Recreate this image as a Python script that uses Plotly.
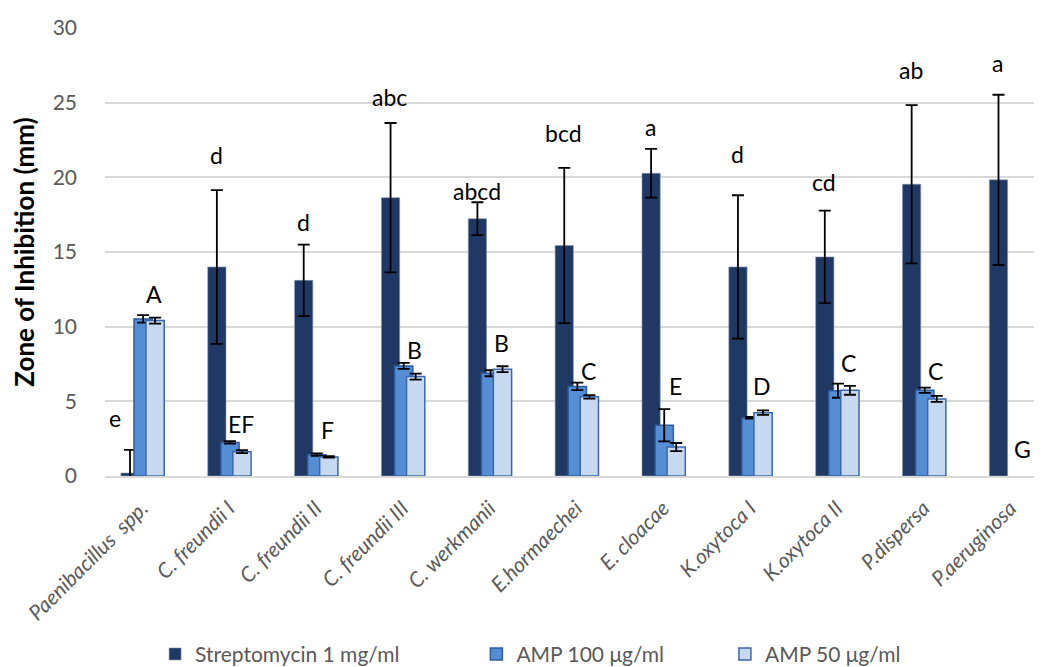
import plotly.graph_objects as go

categories = ["Paenibacillus  spp.", "C. freundii I", "C. freundii II", "C. freundii III",
              "C. werkmanii", "E.hormaechei", "E. cloacae", "K.oxytoca I", "K.oxytoca II",
              "P.dispersa", "P.aeruginosa"]

strep = [0.2, 14.0, 13.1, 18.64, 17.23, 15.44, 20.27, 14.0, 14.67, 19.54, 19.83]
strep_err = [1.55, 5.15, 2.4, 5.0, 1.1, 5.2, 1.63, 4.8, 3.1, 5.3, 5.7]
amp100 = [10.52, 2.25, 1.43, 7.37, 6.88, 6.0, 3.4, 3.9, 5.71, 5.74, None]
amp100_err = [0.25, 0.08, 0.08, 0.2, 0.2, 0.25, 1.08, 0.06, 0.47, 0.18, None]
amp50 = [10.41, 1.63, 1.28, 6.66, 7.15, 5.3, 1.94, 4.24, 5.74, 5.16, None]
amp50_err = [0.2, 0.1, 0.05, 0.2, 0.2, 0.12, 0.27, 0.15, 0.3, 0.2, None]

strep_letters = ["e", "d", "d", "abc", "abcd", "bcd", "a", "d", "cd", "ab", "a"]
strep_letter_y = [3.9, 21.5, 17.0, 25.4, 19.06, 23.0, 23.4, 21.56, 19.7, 27.2, 27.66]
amp_letters = ["A", "EF", "F", "B", "B", "C", "E", "D", "C", "C", "G"]
amp_letter_y = [12.2, 3.45, 3.07, 8.42, 8.9, 7.06, 6.04, 6.05, 7.54, 7.0, 1.8]

series_names = ["Streptomycin 1 mg/ml", "AMP 100 μg/ml", "AMP 50 μg/ml"]

FONT = "Lato"
idx = list(range(len(categories)))

fig = go.Figure()
W = 0.21
fig.add_trace(go.Bar(
    x=idx, y=strep, name=series_names[0], width=W, offset=-0.243,
    marker=dict(color="#1F3864", line=dict(color="#8497B0", width=0.6)),
    error_y=dict(type="data", array=strep_err, color="black", thickness=1.8, width=6),
    legend="legend", showlegend=True))
fig.add_trace(go.Bar(
    x=idx, y=amp100, name=series_names[1], width=W, offset=-0.092,
    marker=dict(color="#558ED5", line=dict(color="#2F5C9E", width=1.5)),
    error_y=dict(type="data", array=amp100_err, color="black", thickness=1.8, width=6),
    legend="legend2", showlegend=True))
fig.add_trace(go.Bar(
    x=idx, y=amp50, name=series_names[2], width=W, offset=0.046,
    marker=dict(color="#C6D9F1", line=dict(color="#3A68AA", width=1.5)),
    error_y=dict(type="data", array=amp50_err, color="black", thickness=1.8, width=6),
    legend="legend3", showlegend=True))

annotations = []
for i in idx:
    dx = -0.31 if i == 0 else -0.145
    annotations.append(dict(x=i + dx, y=strep_letter_y[i], text=strep_letters[i],
                            showarrow=False, xref="x", yref="y",
                            font=dict(family=FONT, size=23, color="black")))
    annotations.append(dict(x=i + 0.14, y=amp_letter_y[i], text=amp_letters[i],
                            showarrow=False, xref="x", yref="y",
                            font=dict(family=FONT, size=23, color="black")))

leg_common = dict(orientation="h", yanchor="middle", y=-0.398, xanchor="left",
                  font=dict(family=FONT, size=21, color="#595959"),
                  bgcolor="rgba(0,0,0,0)", itemwidth=30)

fig.update_layout(
    barmode="overlay",
    width=1042, height=667,
    margin=dict(l=97, r=0, t=20, b=193),
    paper_bgcolor="white", plot_bgcolor="white",
    font=dict(family=FONT),
    showlegend=True,
    annotations=annotations,
    legend=dict(x=0.053, **leg_common),
    legend2=dict(x=0.393, **leg_common),
    legend3=dict(x=0.656, **leg_common),
    xaxis=dict(
        tickmode="array", tickvals=idx, ticktext=categories,
        range=[-0.426, 10.455], tickangle=-45,
        tickfont=dict(family=FONT, size=21, color="#595959", style="italic"),
        showgrid=False, showline=True, linecolor="#D9D9D9", linewidth=1.5,
        ticks="", zeroline=False, ticklabelstandoff=10),
    yaxis=dict(
        range=[0, 30], dtick=5, tick0=0,
        tickfont=dict(family=FONT, size=21, color="#595959"),
        showgrid=True, gridcolor="#D9D9D9", gridwidth=1.5,
        zeroline=False, showline=False, ticks="", ticklabelstandoff=27,
        title=dict(text="<b>Zone of Inhibition (mm)</b>", standoff=12,
                   font=dict(family=FONT, size=26, color="black"))),
)

fig.write_html("out.html")
